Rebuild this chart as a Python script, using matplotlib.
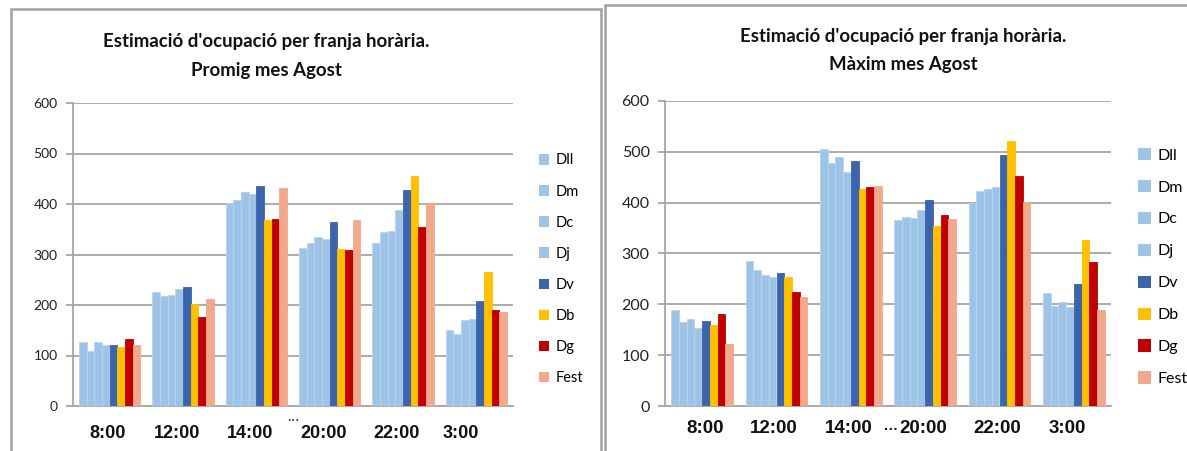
import matplotlib
matplotlib.use("Agg")
import matplotlib.pyplot as plt
import matplotlib.transforms as mtransforms
import numpy as np
from matplotlib.patches import Patch, Rectangle

# Time slots and day types
franges = ["8:00", "12:00", "14:00", "20:00", "22:00", "3:00"]
dies = ["Dll", "Dm", "Dc", "Dj", "Dv", "Db", "Dg", "Fest"]

# Average occupancy in August (one list per day type, one value per time slot)
promig = {
    "Dll":  [127, 225, 401, 313, 323, 150],
    "Dm":   [109, 217, 407, 323, 344, 142],
    "Dc":   [127, 220, 424, 334, 346, 170],
    "Dj":   [121, 232, 419, 331, 388, 173],
    "Dv":   [121, 235, 435, 365, 427, 207],
    "Db":   [116, 201, 368, 310, 455, 266],
    "Dg":   [132, 176, 370, 308, 355, 191],
    "Fest": [121, 212, 432, 368, 401, 186],
}

# Maximum occupancy in August
maxim = {
    "Dll":  [189, 286, 505, 365, 399, 223],
    "Dm":   [165, 268, 479, 371, 423, 197],
    "Dc":   [172, 257, 489, 369, 426, 204],
    "Dj":   [153, 253, 460, 386, 431, 194],
    "Dv":   [167, 262, 481, 406, 493, 240],
    "Db":   [160, 253, 426, 355, 522, 326],
    "Dg":   [181, 225, 431, 375, 452, 283],
    "Fest": [121, 214, 433, 367, 402, 188],
}

colors = {
    "Dll": "#9DC3E6", "Dm": "#9DC3E6", "Dc": "#9DC3E6", "Dj": "#9DC3E6",
    "Dv": "#3C64AD", "Db": "#FFC000", "Dg": "#C00000", "Fest": "#F2A88B",
}

W, H = 1187, 451
fig = plt.figure(figsize=(W / 100, H / 100), dpi=100)
fig.patch.set_facecolor("white")

GRID = "#A6A6A6"
BODY_FONT = ["Lato", "DejaVu Sans"]
TITLE_FONT = ["Lato", "DejaVu Sans"]
LABEL_FONT = ["Liberation Sans", "DejaVu Sans"]


def px_axes(x0, y_top, x1, y_bottom):
    return fig.add_axes([x0 / W, 1 - y_bottom / H, (x1 - x0) / W, (y_bottom - y_top) / H])


def draw_panel(ax, data, title, tick_size, legend_size, legend_anchor, handle_w,
               spacing, title_y, title_x, xlab_size, xpad, xshift, dots):
    n = len(dies)
    x = np.arange(len(franges))
    group = 1 / 1.2
    bw = group / n
    for i, d in enumerate(dies):
        pos = x - group / 2 + bw * (i + 0.5)
        edge = "#B9D4EE" if d in ("Dll", "Dm", "Dc", "Dj") else colors[d]
        ax.bar(pos, data[d], width=bw, color=colors[d], edgecolor=edge,
               linewidth=0.6, zorder=3, label=d)
    ax.set_xlim(-0.5, len(franges) - 0.5)
    ax.set_ylim(0, 600)
    ax.set_yticks(range(0, 601, 100))
    ax.yaxis.grid(True, color=GRID, linewidth=1.3, zorder=0)
    ax.set_axisbelow(True)
    for s in ("top", "right"):
        ax.spines[s].set_visible(False)
    for s in ("left", "bottom"):
        ax.spines[s].set_color(GRID)
        ax.spines[s].set_linewidth(1.3)
    ax.tick_params(axis="y", length=5, width=1.3, color=GRID, pad=6,
                   labelsize=tick_size, labelcolor="#222222")
    ax.tick_params(axis="x", length=0, pad=xpad)
    ax.set_xticks(x)
    ax.set_xticklabels(franges, fontsize=xlab_size, fontweight="bold",
                       family=LABEL_FONT, color="#111111")
    # category labels sit slightly left of their groups
    for lab, dx in zip(ax.get_xticklabels(), xshift):
        lab.set_transform(lab.get_transform() +
                          mtransforms.ScaledTranslation(dx / 100, 0, fig.dpi_scale_trans))
    for lab in ax.get_yticklabels():
        lab.set_family(BODY_FONT)
    # small ellipsis before the 20:00 label
    tr = mtransforms.blended_transform_factory(ax.transData, ax.transAxes)
    ax.text(dots[0], dots[1], "···", transform=tr, ha="right", va="center",
            fontsize=dots[2], fontweight="bold", color=dots[3], family=LABEL_FONT)
    handles = [Patch(facecolor=colors[d], edgecolor="none") for d in dies]
    fig.legend(handles, dies, loc="upper left", bbox_to_anchor=legend_anchor,
               bbox_transform=fig.transFigure, frameon=False,
               prop={"family": BODY_FONT, "size": legend_size},
               handlelength=handle_w, handleheight=handle_w, handletextpad=0.45,
               labelspacing=spacing, borderpad=0, borderaxespad=0)
    fig.text(title_x / W, 1 - title_y / H, title, ha="center", va="center",
             fontsize=13.4, fontweight="bold", family=TITLE_FONT,
             linespacing=1.8, color="#111111")


# Panel frames
fig.add_artist(Rectangle((11 / W, -0.05), (601 - 11) / W, 1.05 - 9 / H,
                         transform=fig.transFigure, fill=False,
                         edgecolor="#A0A0A0", linewidth=1.8))
fig.add_artist(Rectangle((605 / W, -0.05), 1.1, 1.05 - 5 / H,
                         transform=fig.transFigure, fill=False,
                         edgecolor="#A0A0A0", linewidth=1.8))

ax1 = px_axes(73, 103, 513, 406)
draw_panel(ax1, promig, "Estimació d'ocupació per franja horària.\nPromig mes Agost",
           tick_size=10, legend_size=10.5, legend_anchor=(539 / W, 1 - 153.5 / H),
           handle_w=0.7, spacing=1.17, title_y=56, title_x=266,
           xlab_size=13, xpad=14, xshift=(-2, -6, -6, -6, -6, -16),
           dots=(2.59, -0.05, 9, "#3a4a78"))

ax2 = px_axes(665, 101, 1111, 406)
draw_panel(ax2, maxim, "Estimació d'ocupació per franja horària.\nMàxim mes Agost",
           tick_size=11.5, legend_size=11.5, legend_anchor=(1138 / W, 1 - 148 / H),
           handle_w=0.8, spacing=1.08, title_y=50.5, title_x=903,
           xlab_size=13.5, xpad=10, xshift=(3, -2.5, -2, -2, -2, -6.5),
           dots=(2.64, -0.08, 10, "#111111"))

fig.savefig("out.png", dpi=100, facecolor="white")
